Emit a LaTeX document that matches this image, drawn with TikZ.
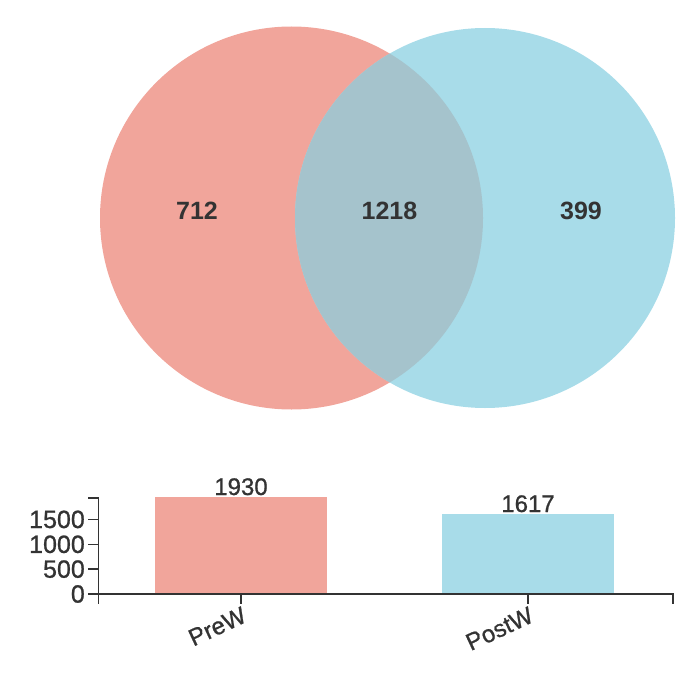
\documentclass[tikz,border=0pt]{standalone}
\usepackage{fontspec}
\setmainfont{Liberation Sans}
\newfontfamily\semibold[FakeBold=0.9]{Liberation Sans}
\definecolor{vred}{HTML}{F1A59B}
\definecolor{vblue}{HTML}{A8DCE9}
\definecolor{vmix}{HTML}{A5C3CC}
\definecolor{txt}{HTML}{333333}
\begin{document}
\begin{tikzpicture}[x=1pt,y=-1pt,
  vennlbl/.style={font=\fontsize{25}{25}\selectfont\bfseries, text=txt, inner sep=0pt},
  barlbl/.style={font=\fontsize{24}{24}\semibold, text=txt, inner sep=0pt},
  ticklbl/.style={font=\fontsize{25}{25}\semibold, text=txt, inner sep=0pt, anchor=east},
  catlbl/.style={font=\fontsize{24}{24}\semibold, text=txt, inner sep=0pt, anchor=north east, rotate=25},
  axisline/.style={draw=black!80, line width=1.3pt}
]
\useasboundingbox (0,0) rectangle (700,674);
% Venn
\fill[vred] (291.5,218) circle (191.5pt);
\fill[vblue] (485,218) circle (190pt);
\begin{scope}
  \clip (291.5,218) circle (191.5pt);
  \fill[vmix] (485,218) circle (190pt);
\end{scope}
\node[vennlbl] (a) at (197,211) {712};
\node[vennlbl] (ab) at (389.5,211) {1218};
\node[vennlbl] (b) at (581,211) {399};
% bars
\fill[vred] (155,497) rectangle (327,594);
\fill[vblue] (442,513.6) rectangle (614,594);
\node[barlbl, anchor=base] (v1) at (241,495) {1930};
\node[barlbl, anchor=base] (v2) at (528,512) {1617};
% axes
\coordinate (yt) at (98.5,498);
\coordinate (yb) at (98.5,594);
\coordinate (xr) at (673,594);
\draw[axisline] (88,498) -- (yt) -- (yb) -- (98.5,604);
\draw[axisline] (yb) -- (xr) -- (673,604);
\foreach \v/\yy in {0/594,500/569.1,1000/544.3,1500/519.4}{
  \draw[axisline] (88,\yy) -- (98.5,\yy);
  \node[ticklbl] (t\v) at (85,\yy) {\v};
}
\coordinate (c1) at (241,594);
\coordinate (c2) at (528,594);
\draw[axisline] (c1) -- ++(0,10);
\draw[axisline] (c2) -- ++(0,10);
\node[catlbl] (l1) at (241,606) {PreW};
\node[catlbl] (l2) at (528,606) {PostW};
\end{tikzpicture}
\end{document}
